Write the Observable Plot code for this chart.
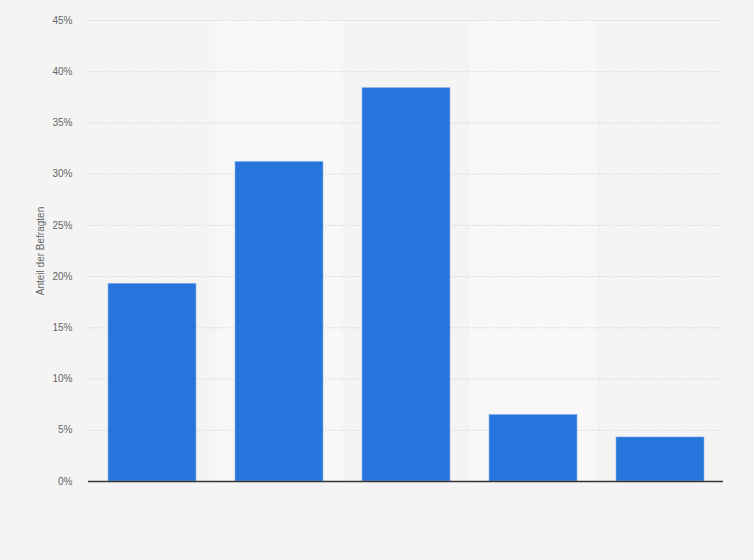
<!DOCTYPE html>
<html>
<head>
<meta charset="utf-8">
<script src="https://cdn.jsdelivr.net/npm/d3@7"></script>
<script src="https://cdn.jsdelivr.net/npm/@observablehq/plot@0.6"></script>
<style>
  html, body { margin: 0; padding: 0; background: #f4f4f4; }
  #chart { width: 754px; height: 560px; }
  svg { font-family: "Liberation Sans", Arial, sans-serif; }
</style>
</head>
<body>
<div id="chart"></div>
<script>
const categories = ["Kategorie 1", "Kategorie 2", "Kategorie 3", "Kategorie 4", "Kategorie 5"];
const values = [19.3, 31.2, 38.4, 6.5, 4.3];
const yTicks = [0, 5, 10, 15, 20, 25, 30, 35, 40, 45];
const shadedBands = ["Kategorie 2", "Kategorie 4"];
const yLabel = "Anteil der Befragten";

const data = categories.map((c, i) => ({ category: c, value: values[i] }));
const bandData = shadedBands.map(c => ({ category: c, value: 45 }));

const chart = Plot.plot({
  width: 754,
  height: 560,
  marginLeft: 88,
  marginRight: 31,
  marginTop: 20,
  marginBottom: 79,
  style: { background: "#f4f4f4", fontFamily: "Liberation Sans, Arial, sans-serif" },
  x: { domain: categories, paddingInner: 0.31, paddingOuter: 0.155, axis: null },
  y: { domain: [0, 45], ticks: yTicks, tickFormat: d => d + "%", label: null },
  marks: [
    Plot.barY(bandData, { x: "category", y: "value", fill: "#f8f8f8", insetLeft: -19.7, insetRight: -19.7 }),
    Plot.ruleY(yTicks.filter(t => t > 0), { stroke: "#d6d6d6", strokeDasharray: "1.5,1.5", strokeWidth: 1 }),
    Plot.axisY({ ticks: yTicks, tickFormat: d => d + "%", tickSize: 0, tickPadding: 16, fontSize: 10, fill: "#666", label: null }),
    Plot.text([yLabel], { frameAnchor: "left", dx: -48, rotate: -90, fontSize: 10, fill: "#666", textAnchor: "middle" }),
    Plot.barY(data, { x: "category", y: "value", fill: "#2775dc", stroke: "#8fb6ec", strokeWidth: 0.6 }),
    Plot.ruleY([0], { stroke: "#333", strokeWidth: 1.3 })
  ]
});
document.getElementById("chart").appendChild(chart);
</script>
</body>
</html>
